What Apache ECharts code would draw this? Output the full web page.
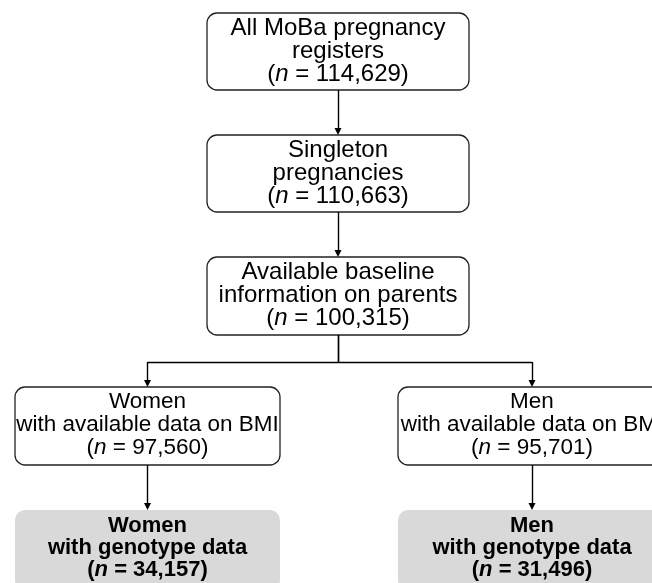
<!DOCTYPE html>
<html>
<head>
<meta charset="utf-8">
<script src="https://cdn.jsdelivr.net/npm/echarts@6/dist/echarts.min.js"></script>
<style>
html,body{margin:0;padding:0;background:#fff}
#chart{width:652px;height:583px}
</style>
</head>
<body>
<div id="chart"></div>
<script>
// box text
var nodeTitles = [
    ['All MoBa pregnancy', 'registers'],
    ['Singleton', 'pregnancies'],
    ['Available baseline', 'information on parents'],
    ['Women', 'with available data on BMI'],
    ['Men', 'with available data on BMI'],
    ['Women', 'with genotype data'],
    ['Men', 'with genotype data']
];
var nodeCounts = ['114,629', '110,663', '100,315', '97,560', '95,701', '34,157', '31,496'];
var nodeFinal = [false, false, false, false, false, true, true];
// arrows: from box -> to box
var edgeFrom = [0, 1, 2, 2, 3, 4];
var edgeTo = [1, 2, 3, 4, 5, 6];

// layout (axis units = px): left, top, width, height
var nodeLayout = [
    [207, 13, 262, 77],
    [207, 135, 262, 77],
    [207, 257, 262, 78],
    [15, 387, 265, 78],
    [398, 387, 268, 78],
    [15, 510, 265, 80],
    [398, 510, 268, 80]
];
var nodeFont = [24, 24, 24, 22.5, 22.5, 22, 22];
var branchY = 362;

var font = '"Liberation Sans", Arial, sans-serif';

function boxText(i) {
    var lines = nodeTitles[i].map(function (l) { return '{t|' + l + '}'; });
    lines.push('{t|(}{i|n}{t| = ' + nodeCounts[i] + ')}');
    return lines.join('\n');
}

function boxRich(i) {
    var fs = nodeFont[i];
    var w = nodeFinal[i] ? 'bold' : 'normal';
    var lh = nodeFinal[i] ? 22 : 23;
    return {
        t: {fontSize: fs, lineHeight: lh, fontFamily: font, fill: '#000', fontWeight: w},
        i: {fontSize: fs, lineHeight: lh, fontFamily: font, fill: '#000', fontWeight: w, fontStyle: 'italic'}
    };
}

var boxData = nodeLayout.map(function (l, i) { return [l[0], l[1], l[2], l[3], i]; });

// plain segments and arrowed last segments
var plainSegs = [];
var arrowSegs = [];
edgeFrom.forEach(function (f, k) {
    var a = nodeLayout[f], b = nodeLayout[edgeTo[k]];
    var x1 = a[0] + a[2] / 2, y1 = a[1] + a[3];
    var x2 = b[0] + b[2] / 2, y2 = b[1] - 3.5;
    if (Math.abs(x1 - x2) < 1) {
        arrowSegs.push({coords: [[x1, y1], [x2, y2]]});
    } else {
        plainSegs.push({coords: [[x1, y1], [x1, branchY]]});
        plainSegs.push({coords: [[x1, branchY], [x2, branchY]]});
        arrowSegs.push({coords: [[x2, branchY], [x2, y2]]});
    }
});

var chart = echarts.init(document.getElementById('chart'));
chart.setOption({
    animation: false,
    grid: {left: 0, right: 0, top: 0, bottom: 0},
    xAxis: {type: 'value', min: 0, max: 652, show: false},
    yAxis: {type: 'value', min: 0, max: 583, inverse: true, show: false},
    series: [
        {
            type: 'custom',
            clip: false,
            data: boxData,
            encode: {x: 0, y: 1},
            renderItem: function (params, api) {
                var i = api.value(4);
                var p0 = api.coord([api.value(0), api.value(1)]);
                var p1 = api.coord([api.value(0) + api.value(2), api.value(1) + api.value(3)]);
                var fin = nodeFinal[i];
                return {
                    type: 'group',
                    children: [
                        {
                            type: 'rect',
                            shape: {x: p0[0], y: p0[1], width: p1[0] - p0[0], height: p1[1] - p0[1], r: 10},
                            style: fin ? {fill: '#d9d9d9', stroke: null}
                                       : {fill: '#fff', stroke: '#222', lineWidth: 1.3}
                        },
                        {
                            type: 'text',
                            x: (p0[0] + p1[0]) / 2,
                            y: p0[1] + 38,
                            style: {
                                text: boxText(i),
                                align: 'center',
                                verticalAlign: 'middle',
                                rich: boxRich(i)
                            }
                        }
                    ]
                };
            }
        },
        {
            type: 'lines',
            coordinateSystem: 'cartesian2d',
            symbol: 'none',
            lineStyle: {color: '#000', width: 1.4, opacity: 1},
            data: plainSegs
        },
        {
            type: 'lines',
            coordinateSystem: 'cartesian2d',
            symbol: ['none', 'triangle'],
            symbolSize: 7,
            lineStyle: {color: '#000', width: 1.4, opacity: 1},
            data: arrowSegs
        }
    ]
});
</script>
</body>
</html>
